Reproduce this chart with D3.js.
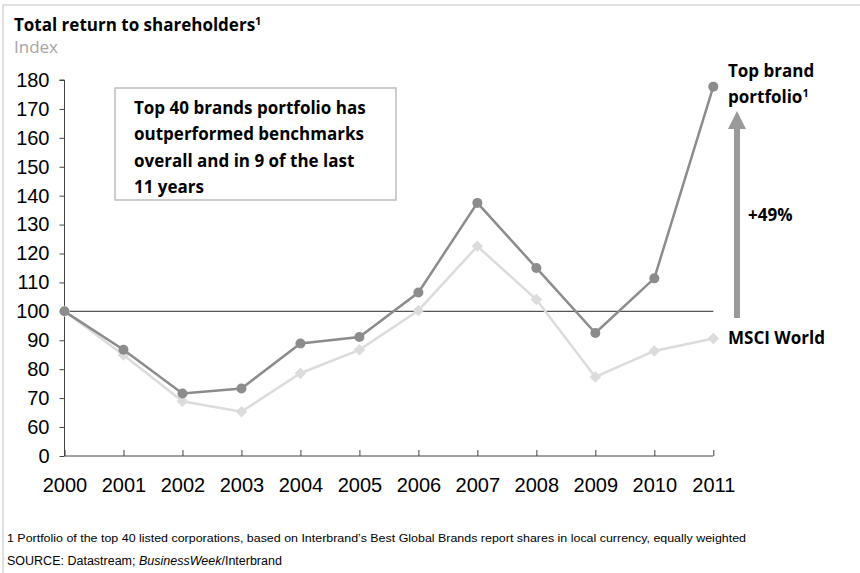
<!DOCTYPE html>
<html>
<head>
<meta charset="utf-8">
<script src="https://cdn.jsdelivr.net/npm/d3@7"></script>
<style>
  html, body { margin: 0; padding: 0; background: #fff; }
  svg { display: block; }
</style>
</head>
<body>
<svg id="chart" width="860" height="573"></svg>
<script>
const years = [2000, 2001, 2002, 2003, 2004, 2005, 2006, 2007, 2008, 2009, 2010, 2011];
const topBrand = [100, 86.7, 71.6, 73.3, 88.9, 91.1, 106.5, 137.5, 115, 92.5, 111.4, 177.7];
const msciWorld = [100, 84.9, 68.9, 65.3, 78.6, 86.7, 100.3, 122.5, 104.1, 77.3, 86.3, 90.6];
const yTicks = [0, 60, 70, 80, 90, 100, 110, 120, 130, 140, 150, 160, 170, 180];
const baseline = 100;
const outperformLabel = "+49%";

const svg = d3.select("#chart");
const sansNum = "'Liberation Sans', Arial, sans-serif";
const sansTxt = "'Open Sans', 'Noto Sans', sans-serif";

// frame
svg.append("line").attr("x1", 2).attr("x2", 860).attr("y1", 5).attr("y2", 5)
  .attr("stroke", "#e0e0e0").attr("stroke-width", 2);
svg.append("line").attr("x1", 3).attr("x2", 3).attr("y1", 5).attr("y2", 573)
  .attr("stroke", "#e0e0e0").attr("stroke-width", 2);

// scales (axis break between 0 and 60)
const x = d3.scalePoint().domain(years).range([64.5, 713.3]);
const y = d3.scaleLinear().domain([0, 60, 180]).range([456, 427, 80]);

// title
const title = svg.append("text").attr("x", 14).attr("y", 31)
  .attr("font-family", sansTxt).attr("font-weight", "bold").attr("font-size", 17).attr("fill", "#000");
title.append("tspan").text("Total return to shareholders");
title.append("tspan").text("1").attr("font-size", 11).attr("dy", -6);
svg.append("text").attr("x", 14).attr("y", 53).text("Index")
  .attr("font-family", sansTxt).attr("font-size", 17).attr("fill", "#a6a6a6");

// y axis
const yAxis = d3.axisLeft(y).tickValues(yTicks).tickSize(5).tickPadding(10).tickFormat(d => String(d));
const gy = svg.append("g").attr("transform", "translate(64.5,0)").call(yAxis);
gy.select(".domain").attr("d", "M-5,80H0V456").attr("stroke", "#444");
gy.selectAll(".tick line").attr("stroke", "#444");
gy.selectAll(".tick text").attr("font-family", sansNum).attr("font-size", 20).attr("fill", "#000");

// x axis (ticks pointing up)
const xAxis = d3.axisBottom(x).tickSize(-6).tickPadding(22).tickFormat(d => String(d));
const gx = svg.append("g").attr("transform", "translate(0,456)").call(xAxis);
gx.select(".domain").attr("d", "M64.5,0H713.3").attr("stroke", "#444");
gx.selectAll(".tick line").attr("stroke", "#444");
gx.selectAll(".tick text").attr("font-family", sansNum).attr("font-size", 20).attr("fill", "#000");

// baseline at 100
svg.append("line").attr("x1", x(years[0])).attr("x2", x(years[years.length - 1]))
  .attr("y1", y(baseline)).attr("y2", y(baseline)).attr("stroke", "#555").attr("stroke-width", 1.2);

const line = d3.line().x((d, i) => x(years[i])).y(d => y(d));

// MSCI World
svg.append("path").datum(msciWorld).attr("d", line)
  .attr("fill", "none").attr("stroke", "#dcdcdc").attr("stroke-width", 2.5);
svg.append("g").selectAll("path").data(msciWorld).join("path")
  .attr("d", d3.symbol(d3.symbolDiamond2, 85))
  .attr("transform", (d, i) => `translate(${x(years[i])},${y(d)})`)
  .attr("fill", "#dcdcdc");

// Top brand portfolio
svg.append("path").datum(topBrand).attr("d", line)
  .attr("fill", "none").attr("stroke", "#8c8c8c").attr("stroke-width", 2.5);
svg.append("g").selectAll("circle").data(topBrand).join("circle")
  .attr("cx", (d, i) => x(years[i])).attr("cy", d => y(d)).attr("r", 5)
  .attr("fill", "#8c8c8c");

// annotation box
svg.append("rect").attr("x", 115).attr("y", 88).attr("width", 281).attr("height", 112)
  .attr("fill", "#fff").attr("stroke", "#bdbdbd").attr("stroke-width", 1.5);
const boxLines = ["Top 40 brands portfolio has", "outperformed benchmarks", "overall and in 9 of the last", "11 years"];
svg.append("g").selectAll("text").data(boxLines).join("text")
  .attr("x", 134).attr("y", (d, i) => 114 + i * 26.3).text(d => d)
  .attr("font-family", sansTxt).attr("font-weight", "bold").attr("font-size", 17).attr("fill", "#000");

// arrow
const ax = 737;
svg.append("rect").attr("x", ax - 3).attr("y", 128).attr("width", 6).attr("height", 318 - 128).attr("fill", "#9a9a9a");
svg.append("path").attr("d", `M${ax},111L${ax + 9},129L${ax - 9},129Z`).attr("fill", "#9a9a9a");

// right labels
const lab = svg.append("g").attr("font-family", sansTxt).attr("font-weight", "bold").attr("font-size", 17).attr("fill", "#000");
lab.append("text").attr("x", 728).attr("y", 77).text("Top brand");
const t2 = lab.append("text").attr("x", 728).attr("y", 103);
t2.append("tspan").text("portfolio");
t2.append("tspan").text("1").attr("font-size", 11).attr("dy", -6);
lab.append("text").attr("x", 748).attr("y", 221).text(outperformLabel);
lab.append("text").attr("x", 728).attr("y", 344).text("MSCI World");

// footnotes
svg.append("text").attr("x", 7).attr("y", 542)
  .attr("font-family", sansNum).attr("font-size", 11.5).attr("fill", "#000")
  .attr("textLength", 739).attr("lengthAdjust", "spacingAndGlyphs")
  .text("1 Portfolio of the top 40 listed corporations, based on Interbrand\u2019s Best Global Brands report shares in local currency, equally weighted");
const src = svg.append("text").attr("x", 7).attr("y", 565)
  .attr("font-family", sansNum).attr("font-size", 12.5).attr("fill", "#000");
src.append("tspan").text("SOURCE: Datastream; ");
src.append("tspan").text("BusinessWeek").attr("font-style", "italic");
src.append("tspan").text("/Interbrand");
</script>
</body>
</html>
